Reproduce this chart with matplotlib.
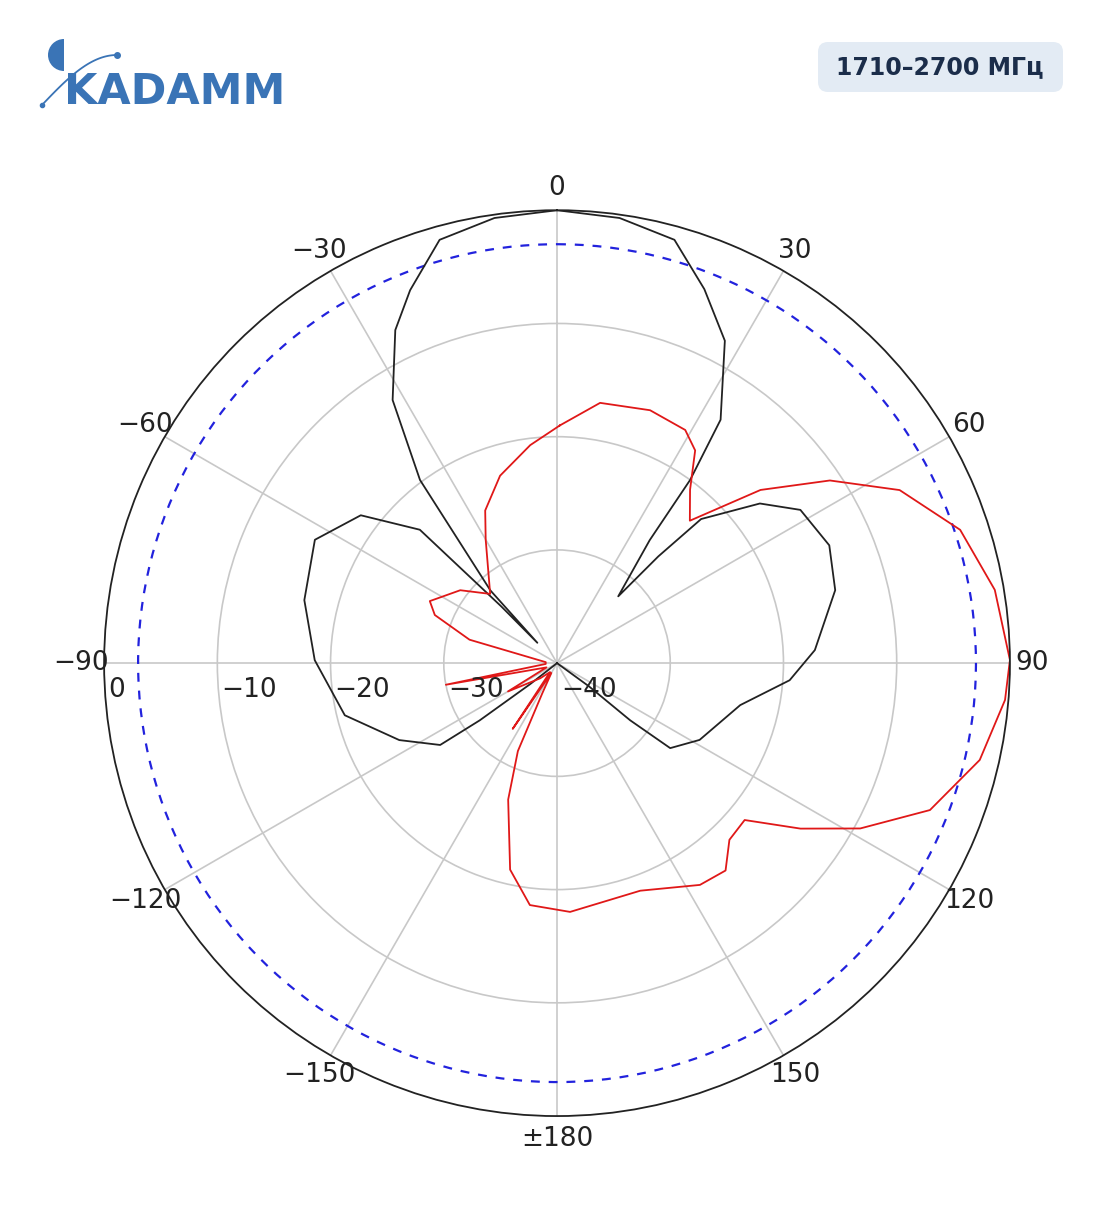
import numpy as np
import matplotlib.pyplot as plt
from matplotlib.patches import FancyBboxPatch, Wedge

# pattern data: (azimuth deg, level dB)
black_ang = [-150, -128, -126.5, -125, -116, -103.8, -89.3, -76, -63, -53, -45.8, -44.5, -44,
             -42.5, -36.8, -32, -25.9, -21.5, -15.5, -8, 0, 8, 15.5, 21.5, 27.5, 33.9, 36, 37, 42.5,
             43.5, 45, 51.8, 57.8, 66.6, 75.3, 87.1, 94.2, 102.9, 118.3, 126.9, 128, 126, 140, 180, 210]
black_db = [-40, -37, -31.5, -27.4, -24.5, -20.7, -18.6, -17, -16, -18.3, -23.1, -33, -37.5,
            -31.3, -19.8, -12.6, -7.3, -4.6, -1.2, -0.3, 0, -0.3, -1.2, -4.5, -7.9, -14.1, -20, -26.4, -32,
            -27, -22, -17.2, -14.6, -13.8, -14.6, -17.2, -19.4, -23.4, -25.7, -27.5, -31.8, -36.5, -40, -40, -40]

red_ang = [0.7, 9.4, 20.2, 28.8, 33, 37.5, 43, 49.6, 56.2, 63.2, 71.7, 80.5, 89.6, 94.7, 102.9,
           111.5, 118.6, 124.2, 129.9, 135.7, 140.9, 147.2, 159.9, 177, 186.4, 192.8, 199.7, 204,
           206, 210, 214, 218, 228, 240, 248, 259, 266, 275, 285, 291.5, 296, 307, 316, 330,
           334.8, 343.1, 353, 360.7]
red_db = [-19, -16.7, -16.2, -16.5, -17.6, -20.7, -22.8, -16.4, -11, -6.1, -2.5, -0.8, 0, -0.3, -1.7,
          -4.6, -9.5, -14, -18.4, -18.2, -16.4, -16.7, -18.6, -18, -18.5, -21.3, -27.2, -31.5,
          -37, -39, -33, -39, -38, -35, -39, -30, -39, -39, -32, -28.4, -27.5, -29.3, -31.5, -27.4,
          -25.1, -22.7, -20.6, -19]

rings = [0, -10, -20, -30, -40]
ang_ticks = [0, 30, 60, 90, 120, 150, 180, -150, -120, -90, -60, -30]
ang_labels = ['0', '30', '60', '90', '120', '150', '±180', '−150', '−120', '−90', '−60', '−30']

fig = plt.figure(figsize=(11.04, 12.11), dpi=100)
ax = fig.add_axes([0.0942, 0.0784, 0.8207, 0.748], projection='polar')
ax.set_theta_zero_location('N')
ax.set_theta_direction(-1)
ax.set_ylim(-40, 0)
ax.set_xticks(np.deg2rad(np.arange(0, 360, 30)))
ax.set_xticklabels([])
ax.set_yticks([-30, -20, -10])
ax.set_yticklabels([])
ax.grid(color='#c8c8c8', lw=1.2)
ax.spines['polar'].set_color('#222222')
ax.spines['polar'].set_linewidth(1.3)

t = np.linspace(0, 2 * np.pi, 400)
ax.plot(t, np.full_like(t, -3), color='#2222dd', ls=(0, (4, 4)), lw=1.6)
ax.plot(np.deg2rad(black_ang), black_db, color='#222222', lw=1.3)
ax.plot(np.deg2rad(red_ang), red_db, color='#e01818', lw=1.3)

for a, lab in zip(ang_ticks, ang_labels):
    ax.text(np.deg2rad(a), 2.0, lab, ha='center', va='center', fontsize=19,
            color='#222222', clip_on=False)
for r in rings:
    lab = str(r).replace('-', '−')
    ax.annotate(lab, xy=(np.deg2rad(-90), r), xytext=(3, -10), textcoords='offset points',
                ha='left', va='top', fontsize=19, color='#222222')

# header badge
badge = FancyBboxPatch((818, 1211 - 92), 245, 50, boxstyle='round,pad=0,rounding_size=10',
                       transform=None, fc='#e3ebf4', ec='none')
fig.patches.append(badge)
fig.text(940 / 1104, 1 - 67 / 1211, '1710–2700 МГц', ha='center', va='center',
         fontsize=17, fontweight='bold', color='#1b2d4a')

# logo
blue = '#3a74b6'
fig.text(64 / 1104, 1 - 104 / 1211, 'KADAMM', ha='left', va='baseline', fontsize=31,
         fontweight='bold', color=blue, family='DejaVu Sans')
lax = fig.add_axes([0, 1 - 130 / 1211, 300 / 1104, 110 / 1211])
lax.set_xlim(0, 300)
lax.set_ylim(130, 20)
lax.axis('off')
lax.add_patch(Wedge((64, 55), 16, 90, 270, fc=blue, ec='none'))
s = np.linspace(0, 1, 50)
lax.plot(42 + 75 * s, 105 - 50 * np.sin(np.pi / 2 * s), color=blue, lw=1.3)
lax.plot([117], [55], 'o', color=blue, ms=4)
lax.plot([42], [105], 'o', color=blue, ms=3)

fig.savefig('out.png', dpi=100)
